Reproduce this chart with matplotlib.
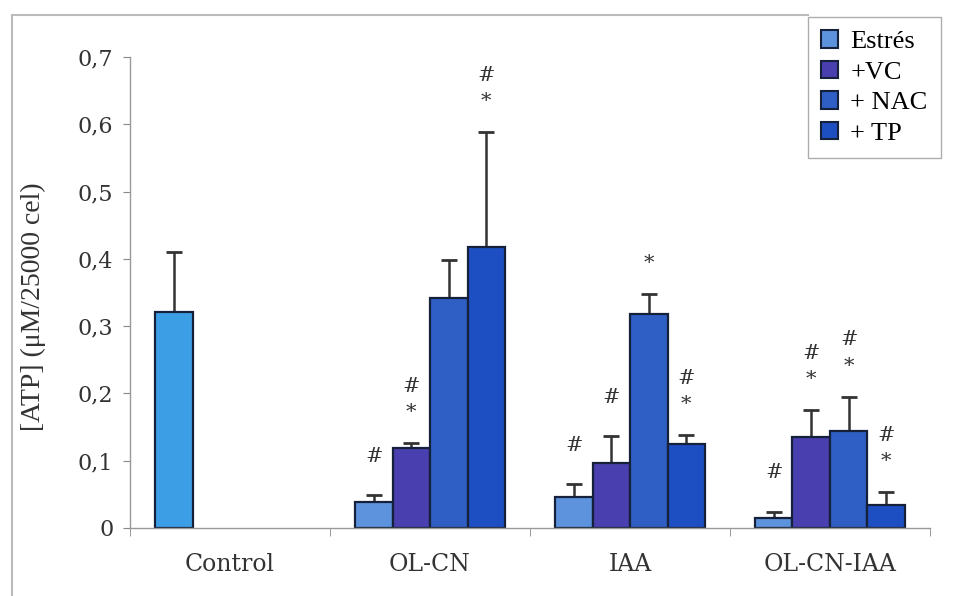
import numpy as np
import matplotlib.pyplot as plt
from matplotlib.patches import Patch
from matplotlib.lines import Line2D

categorias = ["Control", "OL-CN", "IAA", "OL-CN-IAA"]
series = ["Estrés", "+VC", "+ NAC", "+ TP"]

# media y error (solo hacia arriba), por serie y categoria
estres = [0.321, 0.039, 0.046, 0.015]
estres_err = [0.089, 0.010, 0.019, 0.009]
vc = [0, 0.119, 0.097, 0.135]
vc_err = [0, 0.007, 0.039, 0.040]
nac = [0, 0.342, 0.318, 0.144]
nac_err = [0, 0.056, 0.030, 0.051]
tp = [0, 0.418, 0.125, 0.034]
tp_err = [0, 0.170, 0.013, 0.019]

# marcas de significacion sobre cada barra
marcas_estres = ["", "#", "#", "#"]
marcas_vc = ["", "#*", "#", "#*"]
marcas_nac = ["", "", "*", "#*"]
marcas_tp = ["", "#*", "#*", "#*"]

valores = [estres, vc, nac, tp]
errores = [estres_err, vc_err, nac_err, tp_err]
marcas = [marcas_estres, marcas_vc, marcas_nac, marcas_tp]
colores = ["#5d92dc", "#4a3fae", "#2f5fc4", "#1e4fc2"]
color_control = "#3c9fe6"

fig = plt.figure(figsize=(9.59, 5.96), dpi=100)
ax = fig.add_axes([130 / 959, 1 - 528 / 596, 800 / 959, (528 - 57) / 596])

x = np.arange(len(categorias))
ancho = 0.1875

for i, (vals, errs, marc) in enumerate(zip(valores, errores, marcas)):
    pos = x - 1.5 * ancho + i * ancho
    for j in range(len(categorias)):
        if vals[j] == 0:
            continue
        c = color_control if (j == 0 and i == 0) else colores[i]
        ax.bar(pos[j], vals[j], ancho, color=c, edgecolor="#15203a",
               linewidth=1.6, zorder=2)
        ax.errorbar(pos[j], vals[j], yerr=[[0], [errs[j]]], fmt="none",
                    ecolor="#333333", elinewidth=1.8, capsize=5.5,
                    capthick=2, zorder=1)
        tope = vals[j] + errs[j]
        m = marc[j]
        if "*" in m:
            ax.annotate("*", (pos[j], tope), xytext=(0, 22),
                        textcoords="offset points", ha="center", va="center",
                        fontsize=15, color="#333333", family="DejaVu Serif")
            if "#" in m:
                ax.annotate("#", (pos[j], tope), xytext=(0, 41),
                            textcoords="offset points", ha="center",
                            va="center", fontsize=15, color="#333333",
                            family="DejaVu Serif")
        elif "#" in m:
            ax.annotate("#", (pos[j], tope), xytext=(0, 28),
                        textcoords="offset points", ha="center", va="center",
                        fontsize=15, color="#333333", family="DejaVu Serif")

ax.set_xlim(-0.5, 3.5)
ax.set_ylim(0, 0.7)
ax.set_yticks(np.arange(0, 0.71, 0.1))
ax.set_yticklabels(["0"] + [f"0,{k}" for k in range(1, 8)],
                   family="DejaVu Serif", fontsize=16, color="#333333")
ax.set_xticks(x)
ax.set_xticklabels(categorias, family="DejaVu Serif", fontsize=17,
                   color="#333333")
ax.set_xticks(np.arange(-0.5, 3.6, 1), minor=True)
ax.tick_params(axis="x", which="major", length=0, pad=18)
ax.tick_params(axis="x", which="minor", length=6, color="#888888")
ax.tick_params(axis="y", length=5, color="#888888", pad=7)

for s in ["top", "right"]:
    ax.spines[s].set_visible(False)
for s in ["left", "bottom"]:
    ax.spines[s].set_color("#999999")
    ax.spines[s].set_linewidth(1)

ax.set_ylabel("[ATP] (μM/25000 cel)", family="Liberation Serif",
              fontsize=20, color="#333333")
ax.yaxis.set_label_coords(-0.105, 0.47)

handles = [Patch(facecolor=c, edgecolor="#15203a", linewidth=1.5)
           for c in colores]
fig.legend(handles, series, loc="upper left",
           bbox_to_anchor=(808 / 959, 1 - 17 / 596),
           prop={"family": "Liberation Serif", "size": 19},
           frameon=True, fancybox=False, edgecolor="#999999",
           handlelength=0.65, handleheight=0.65, handletextpad=0.45,
           labelspacing=0.28, borderpad=0.5, borderaxespad=0)

# marco exterior
fig.add_artist(Line2D([12 / 959, 12 / 959], [0, 1 - 15 / 596],
                      transform=fig.transFigure, color="#bbbbbb", lw=1.5))
fig.add_artist(Line2D([12 / 959, 808 / 959], [1 - 15 / 596, 1 - 15 / 596],
                      transform=fig.transFigure, color="#bbbbbb", lw=1.5))

fig.savefig("out.png", dpi=100)
